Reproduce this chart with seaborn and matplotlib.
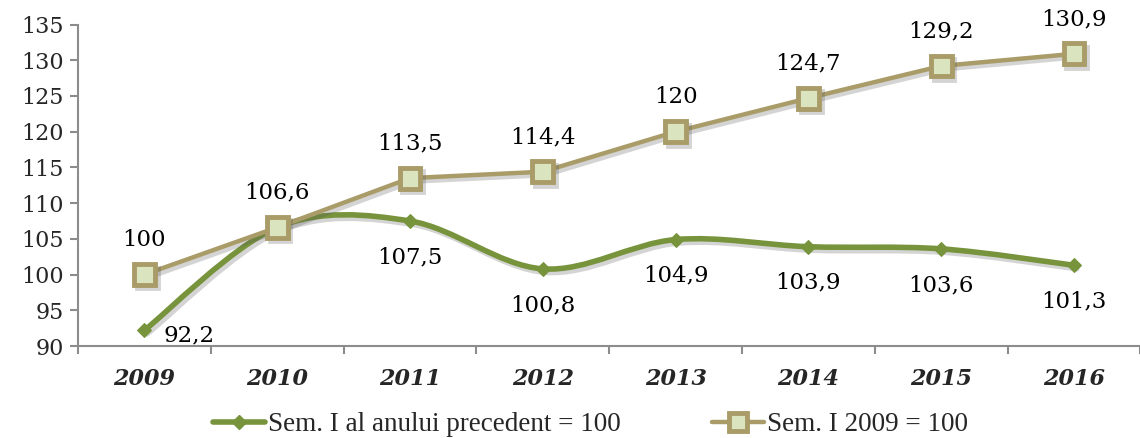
import numpy as np
import pandas as pd
import matplotlib
matplotlib.use("Agg")
import matplotlib.pyplot as plt
import seaborn as sns
from matplotlib.path import Path
from matplotlib.patches import PathPatch
from matplotlib.lines import Line2D
import matplotlib.patheffects as pe

years = ["2009", "2010", "2011", "2012", "2013", "2014", "2015", "2016"]
prev_year = [92.2, 106.6, 107.5, 100.8, 104.9, 103.9, 103.6, 101.3]
base_2009 = [100, 106.6, 113.5, 114.4, 120, 124.7, 129.2, 130.9]
prev_labels = ["92,2", "", "107,5", "100,8", "104,9", "103,9", "103,6", "101,3"]
base_labels = ["100", "106,6", "113,5", "114,4", "120", "124,7", "129,2", "130,9"]
series_names = ["Sem. I al anului precedent = 100", "Sem. I 2009 = 100"]

GREEN = "#77933c"
TAN = "#a99c68"
FILL = "#dae5c0"
AXIS = "#8c8c8c"

sns.set_theme(style="white")
plt.rcParams["font.family"] = ["DejaVu Serif"]

fig = plt.figure(figsize=(11.4, 4.38), dpi=100)
ax = fig.add_axes([0.0684, 0.21, 0.932, 0.734])

pos = np.arange(len(years))
df = pd.DataFrame({"pos": pos, "prev": prev_year, "base": base_2009})

shadow = [pe.SimpleLineShadow(offset=(2, -2.5), shadow_color="#555555", alpha=0.25), pe.Normal()]

# smooth green curve (Catmull-Rom style Bezier through data points)
xs = df["pos"].to_numpy(float)
ys = df["prev"].to_numpy(float)
verts = [(xs[0], ys[0])]
codes = [Path.MOVETO]
n = len(xs)
for i in range(n - 1):
    p0 = (xs[i - 1], ys[i - 1]) if i > 0 else (xs[i], ys[i])
    p1 = (xs[i], ys[i])
    p2 = (xs[i + 1], ys[i + 1])
    p3 = (xs[i + 2], ys[i + 2]) if i + 2 < n else p2
    c1 = (p1[0] + (p2[0] - p0[0]) / 6, p1[1] + (p2[1] - p0[1]) / 6)
    c2 = (p2[0] - (p3[0] - p1[0]) / 6, p2[1] - (p3[1] - p1[1]) / 6)
    verts += [c1, c2, p2]
    codes += [Path.CURVE4] * 3
patch = PathPatch(Path(verts, codes), facecolor="none", edgecolor=GREEN, lw=4, zorder=3,
                  capstyle="round", joinstyle="round")
patch.set_path_effects(shadow)
ax.add_patch(patch)

sns.lineplot(data=df, x="pos", y="prev", ax=ax, color=GREEN, lw=0, marker="D",
             markersize=7, markeredgecolor=GREEN, markerfacecolor=GREEN, zorder=4)

sns.lineplot(data=df, x="pos", y="base", ax=ax, color=TAN, lw=3.2, marker="s",
             markersize=15, markeredgewidth=3.5, markeredgecolor=TAN,
             markerfacecolor=FILL, zorder=5)
ax.get_lines()[-1].set_path_effects(shadow)

fs = 16.5
for i, (v, lab) in enumerate(zip(base_2009, base_labels)):
    ax.annotate(lab, (pos[i], v), xytext=(0, 25), textcoords="offset points",
                ha="center", va="center", fontsize=fs, color="black", zorder=6)
for i, (v, lab) in enumerate(zip(prev_year, prev_labels)):
    if not lab:
        continue
    if i == 0:
        ax.annotate(lab, (pos[i], v), xytext=(32, -4), textcoords="offset points",
                    ha="center", va="center", fontsize=fs, color="black", zorder=6)
    else:
        ax.annotate(lab, (pos[i], v), xytext=(0, -26), textcoords="offset points",
                    ha="center", va="center", fontsize=fs, color="black", zorder=6)

ax.set_xlim(-0.5, len(years) - 0.5)
ax.set_ylim(90, 135)
ax.set_yticks(np.arange(90, 136, 5))
ax.set_xticks(pos)
ax.set_xticklabels(years, fontsize=16, fontweight="bold", fontstyle="italic")
ax.set_xticks(np.arange(-0.5, len(years), 1), minor=True)
ax.tick_params(axis="x", which="major", length=0, pad=16)
ax.tick_params(axis="x", which="minor", length=6, width=1.5, color=AXIS, direction="out", bottom=True)
ax.tick_params(axis="y", length=6, width=1.5, color=AXIS, direction="out", left=True, labelsize=16, pad=4)
ax.set_xlabel("")
ax.set_ylabel("")
for s in ["top", "right"]:
    ax.spines[s].set_visible(False)
for s in ["left", "bottom"]:
    ax.spines[s].set_color(AXIS)
    ax.spines[s].set_linewidth(1.5)
ax.grid(False)

handles = [
    Line2D([0], [0], color=GREEN, lw=4, marker="D", markersize=7, markerfacecolor=GREEN, markeredgecolor=GREEN),
    Line2D([0], [0], color=TAN, lw=3.2, marker="s", markersize=13, markeredgewidth=3.5,
           markeredgecolor=TAN, markerfacecolor=FILL),
]
fig.legend(handles, series_names, loc="center", bbox_to_anchor=(0.518, 0.03), ncol=2,
           frameon=False, handlelength=1.9, handletextpad=0.1, columnspacing=3.4,
           prop={"family": "Liberation Serif", "size": 19.5})

fig.savefig("out.png", dpi=100)
